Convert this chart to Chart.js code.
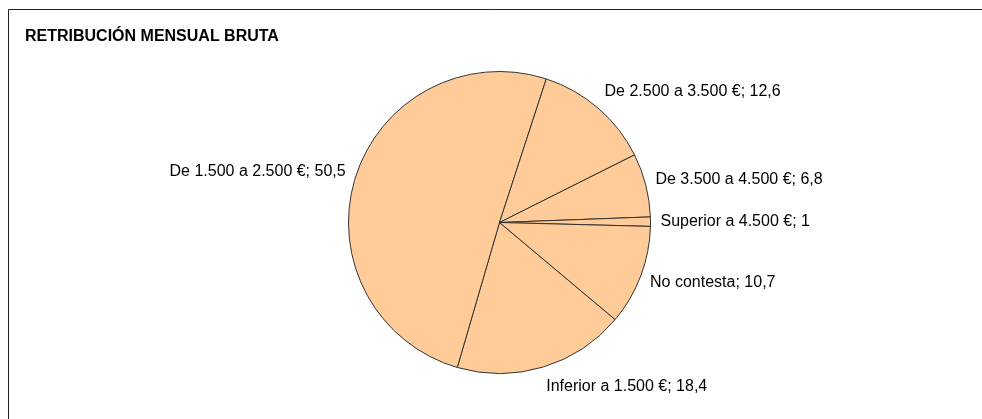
<!DOCTYPE html>
<html lang="es">
<head>
  <meta charset="UTF-8">
  <title>Retribución mensual bruta</title>
  <style>
    body, html {
      margin: 0;
      background: #fff;
    }
    #chart-container {
      width: 982px;
      height: 419px;
      position: relative;
    }
  </style>
</head>
<body>
  <div id="chart-container">
    <canvas id="salaryChart"></canvas>
  </div>

  <script src="https://cdn.jsdelivr.net/npm/chart.js"></script>
  <script>
    const chartTitle = 'RETRIBUCIÓN MENSUAL BRUTA';
    const categories = [
      'Inferior a 1.500 €',
      'De 1.500 a 2.500 €',
      'De 2.500 a 3.500 €',
      'De 3.500 a 4.500 €',
      'Superior a 4.500 €',
      'No contesta'
    ];
    const percentages = [18.4, 50.5, 12.6, 6.8, 1, 10.7];

    const FONT = '"Liberation Sans", Arial, sans-serif';

    // frame, title and "category; value" labels beside each slice
    const labelPlugin = {
      id: 'sliceLabels',
      afterDraw(chart) {
        const ctx = chart.ctx;
        ctx.save();

        // top and left edges of the chart frame
        ctx.strokeStyle = '#222';
        ctx.lineWidth = 1;
        ctx.beginPath();
        ctx.moveTo(8.5, chart.height);
        ctx.lineTo(8.5, 9.5);
        ctx.lineTo(chart.width, 9.5);
        ctx.stroke();

        ctx.fillStyle = '#000';
        ctx.font = 'bold 16px ' + FONT;
        ctx.textAlign = 'left';
        ctx.textBaseline = 'alphabetic';
        ctx.fillText(chartTitle, 25, 41);

        ctx.font = '16px ' + FONT;
        const arcs = chart.getDatasetMeta(0).data;
        arcs.forEach((arc, i) => {
          const mid = (arc.startAngle + arc.endAngle) / 2;
          const r = arc.outerRadius + 10;
          const ax = arc.x + Math.cos(mid) * r;
          const ay = arc.y + Math.sin(mid) * r;
          // sin(mid) > 0 means lower half in canvas coords
          const up = -Math.sin(mid);
          const cy = ay - up * 11 - 2;
          ctx.textAlign = Math.cos(mid) >= 0 ? 'left' : 'right';
          const txt = categories[i] + '; ' + String(percentages[i]).replace('.', ',');
          ctx.fillText(txt, ax, cy + 6);
        });
        ctx.restore();
      }
    };

    const ctx = document.getElementById('salaryChart').getContext('2d');
    new Chart(ctx, {
      type: 'pie',
      data: {
        labels: categories,
        datasets: [{
          data: percentages,
          backgroundColor: '#FFCC99',
          borderColor: '#333',
          borderWidth: 1
        }]
      },
      options: {
        responsive: true,
        maintainAspectRatio: false,
        animation: false,
        rotation: 130,
        layout: {
          padding: { left: 348, right: 331, top: 71, bottom: 45 }
        },
        plugins: {
          legend: { display: false },
          tooltip: { enabled: false }
        }
      },
      plugins: [labelPlugin]
    });
  </script>
</body>
</html>
